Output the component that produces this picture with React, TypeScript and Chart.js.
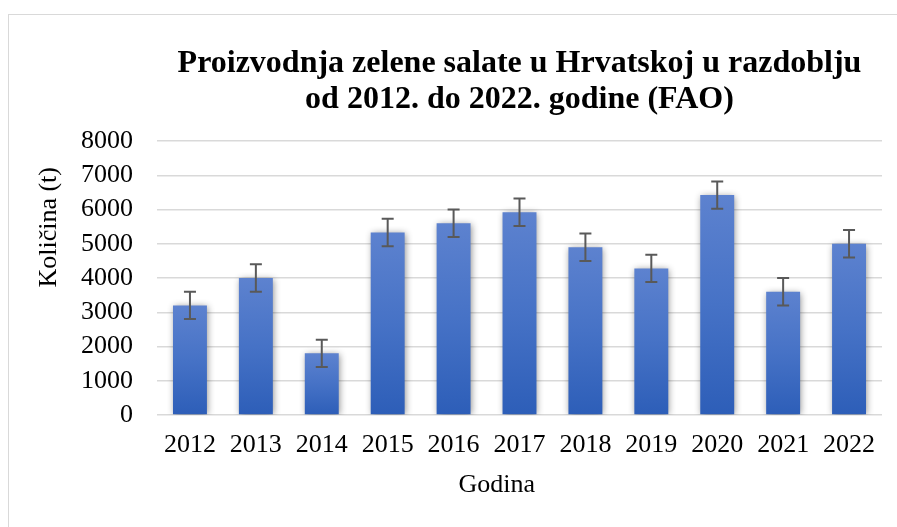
import React, { useEffect, useRef } from "react";
import { Chart, registerables } from "chart.js";

Chart.register(...registerables);

const years = ["2012", "2013", "2014", "2015", "2016", "2017", "2018", "2019", "2020", "2021", "2022"];
const quantities = [3200, 4000, 1800, 5330, 5600, 5920, 4900, 4280, 6420, 3600, 5000];
const errors = [400, 400, 400, 400, 400, 400, 400, 400, 400, 400, 400];
const titleLines = ["Proizvodnja zelene salate u Hrvatskoj u razdoblju", "od 2012. do 2022. godine (FAO)"];
const yTitle = "Količina (t)";
const xTitle = "Godina";

const FONT = "'Liberation Serif', 'Times New Roman', serif";

const shadowPlugin = {
  id: "barShadow",
  beforeDatasetsDraw(chart: any) {
    const ctx = chart.ctx;
    ctx.save();
    ctx.shadowColor = "rgba(0,0,0,0.45)";
    ctx.shadowBlur = 7;
    ctx.shadowOffsetX = 1;
    ctx.shadowOffsetY = 1;
  },
  afterDatasetsDraw(chart: any) {
    chart.ctx.restore();
  },
};

const errorBarPlugin = {
  id: "errorBars",
  afterDatasetsDraw(chart: any) {
    const ctx = chart.ctx;
    const meta = chart.getDatasetMeta(0);
    const y = chart.scales.y;
    ctx.save();
    ctx.strokeStyle = "#595959";
    ctx.lineWidth = 2;
    meta.data.forEach((bar: any, i: number) => {
      const v = quantities[i];
      const e = errors[i];
      const yTop = y.getPixelForValue(v + e);
      const yBot = y.getPixelForValue(v - e);
      const x = bar.x;
      ctx.beginPath();
      ctx.moveTo(x, yTop);
      ctx.lineTo(x, yBot);
      ctx.moveTo(x - 6, yTop);
      ctx.lineTo(x + 6, yTop);
      ctx.moveTo(x - 6, yBot);
      ctx.lineTo(x + 6, yBot);
      ctx.stroke();
    });
    ctx.restore();
  },
};

export default function App() {
  const ref = useRef<HTMLCanvasElement | null>(null);

  useEffect(() => {
    if (!ref.current) return;
    const chart = new Chart(ref.current, {
      type: "bar",
      data: {
        labels: years,
        datasets: [
          {
            data: quantities,
            backgroundColor: (c: any) => {
              const ch = c.chart;
              const ys = ch.scales && ch.scales.y;
              if (!ch.chartArea || !ys || c.type !== "data") return "#4472c4";
              const top = ys.getPixelForValue(c.raw);
              const base = ys.getPixelForValue(0);
              const g = ch.ctx.createLinearGradient(0, top, 0, base);
              g.addColorStop(0, "#5d82cf");
              g.addColorStop(0.5, "#4672c6");
              g.addColorStop(1, "#2d5eb8");
              return g;
            },
            borderWidth: 0,
            categoryPercentage: 1,
            barPercentage: 0.515,
          },
        ],
      },
      options: {
        responsive: false,
        animation: false,
        layout: { padding: { left: 0, right: 15, top: 0, bottom: 0 } },
        plugins: {
          legend: { display: false },
          tooltip: { enabled: false },
          title: {
            display: true,
            text: titleLines,
            fullSize: false,
            color: "#000000",
            font: { family: FONT, size: 32, weight: "bold", lineHeight: 1.125 },
            padding: { top: 46, bottom: 23 },
          },
        },
        scales: {
          x: {
            grid: { display: false, drawTicks: false },
            border: { display: false },
            ticks: { color: "#000000", font: { family: FONT, size: 26 }, padding: 15, maxRotation: 0 },
            title: {
              display: true,
              text: xTitle + "       ",
              color: "#000000",
              font: { family: FONT, size: 26 },
              padding: { top: -6.4, bottom: 26 },
            },
          },
          y: {
            min: 0,
            max: 8000,
            afterFit: (s: any) => {
              s.width = 157;
            },
            grid: { color: "#d9d9d9", lineWidth: 1.5, drawTicks: false },
            border: { display: false },
            ticks: {
              stepSize: 1000,
              autoSkip: false,
              callback: (v: any) => String(v),
              color: "#000000",
              font: { family: FONT, size: 26 },
              padding: 24,
            },
            title: {
              display: true,
              text: yTitle + "    ",
              align: "end",
              color: "#000000",
              font: { family: FONT, size: 26 },
              padding: { top: 34, bottom: 0 },
            },
          },
        },
      },
      plugins: [shadowPlugin, errorBarPlugin],
    } as any);
    return () => chart.destroy();
  }, []);

  return (
    <div style={{ position: "fixed", left: 0, top: 0, width: 897, height: 527, overflow: "hidden", background: "#ffffff" }}>
      <div
        style={{
          position: "absolute",
          left: 8,
          top: 14,
          width: 1000,
          height: 1000,
          borderLeft: "1.5px solid #d9d9d9",
          borderTop: "1.5px solid #d9d9d9",
        }}
      />
      <canvas ref={ref} width={897} height={527} style={{ position: "absolute", left: 0, top: 0, display: "block" }} />
    </div>
  );
}
